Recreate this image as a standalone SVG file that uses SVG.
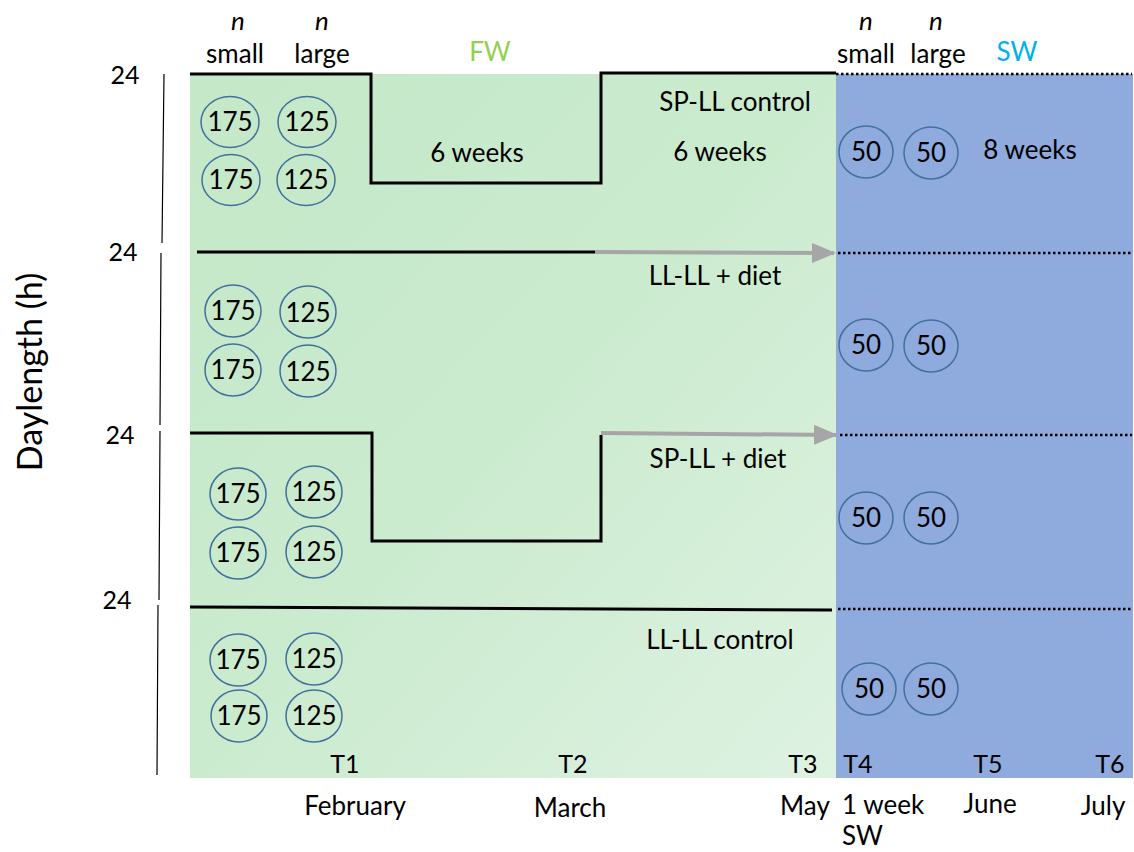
<svg xmlns="http://www.w3.org/2000/svg" width="1134" height="852" viewBox="0 0 1134 852">
<defs>
<linearGradient id="gfw" x1="0" y1="0" x2="1" y2="1">
<stop offset="0" stop-color="#C4E8C8"/>
<stop offset="0.5" stop-color="#CBEBCF"/>
<stop offset="1" stop-color="#DEF2E2"/>
</linearGradient>
<marker id="ga" markerWidth="6" markerHeight="5" refX="5.5" refY="2.5" orient="auto" markerUnits="strokeWidth">
<path d="M0,0 L6,2.5 L0,5 Z" fill="#A6A6A6"/>
</marker>
<style>
text{font-family:Lato,"Open Sans","Liberation Sans",sans-serif;fill:#000}
.t{font-size:26px}
.s{font-size:25px}
.c{fill:none;stroke:#41719C;stroke-width:1.5}
.n{font-size:26px;text-anchor:middle}
.blk{fill:none;stroke:#000;stroke-width:3}
.dot{fill:none;stroke:#000;stroke-width:2.5;stroke-dasharray:2.5 2.5}
.gray{fill:none;stroke:#A6A6A6;stroke-width:4}
.ax{fill:none;stroke:#000;stroke-width:1.2}
</style>
</defs>
<rect x="190" y="74" width="646" height="704" fill="url(#gfw)"/>
<rect x="836" y="74" width="297" height="704" fill="#8FAADC"/>
<g id="axis">
<path class="ax" d="M164,74 L162,243 M161,253 L160,425 M160,431 L159,600 M158,605 L157,775"/>
<text class="s" x="125" y="84" text-anchor="middle">24</text>
<text class="s" x="123" y="261" text-anchor="middle">24</text>
<text class="s" x="120" y="444" text-anchor="middle">24</text>
<text class="s" x="117" y="609" text-anchor="middle">24</text>
<text transform="translate(42,372) rotate(-90)" font-size="34" text-anchor="middle">Daylength (h)</text>
</g>
<g id="header">
<text class="t" x="238" y="30" text-anchor="middle" font-style="italic">n</text>
<text class="t" x="235" y="63" text-anchor="middle">small</text>
<text class="t" x="322" y="30" text-anchor="middle" font-style="italic">n</text>
<text class="t" x="322" y="63" text-anchor="middle">large</text>
<text class="t" x="490" y="61" text-anchor="middle" style="fill:#92D050">FW</text>
<text class="t" x="866" y="30" text-anchor="middle" font-style="italic">n</text>
<text class="t" x="866" y="63" text-anchor="middle">small</text>
<text class="t" x="936" y="30" text-anchor="middle" font-style="italic">n</text>
<text class="t" x="938" y="63" text-anchor="middle">large</text>
<text class="t" x="1017" y="61" text-anchor="middle" style="fill:#00B0F0">SW</text>
</g>
<g id="connectors">
<path class="blk" d="M190,74 L371,74 L371,183 L601,183 L601,73 L836,73"/>
<path class="dot" d="M836,74 L1132,74"/>
<path class="blk" d="M197,252 L595,252"/>
<path class="gray" d="M595,252 L834,253" marker-end="url(#ga)"/>
<path class="dot" d="M838,253 L1132,253"/>
<path class="blk" d="M190,433 L372,433 L372,541 L601,541 L601,435"/>
<path class="gray" d="M601,433 L836,435" marker-end="url(#ga)"/>
<path class="dot" d="M840,435 L1132,435"/>
<path class="blk" d="M190,607 L832,610"/>
<path class="dot" d="M838,609 L1132,609"/>
</g>
<g id="sp-ll-control">
<ellipse class="c" cx="230" cy="122" rx="29" ry="25.5"/><text class="n" x="230" y="131">175</text>
<ellipse class="c" cx="307" cy="122" rx="29" ry="25.5"/><text class="n" x="307" y="131">125</text>
<ellipse class="c" cx="231" cy="180" rx="29" ry="25.5"/><text class="n" x="231" y="189">175</text>
<ellipse class="c" cx="306" cy="180" rx="29" ry="25.5"/><text class="n" x="306" y="189">125</text>
<text class="t" x="477" y="162" text-anchor="middle">6 weeks</text>
<text class="t" x="735" y="111" text-anchor="middle">SP-LL control</text>
<text class="t" x="720" y="161" text-anchor="middle">6 weeks</text>
<ellipse class="c" cx="866" cy="152" rx="27" ry="26"/><text class="n" x="866" y="161">50</text>
<ellipse class="c" cx="931" cy="153" rx="27" ry="26"/><text class="n" x="931" y="162">50</text>
<text class="t" x="1030" y="159" text-anchor="middle">8 weeks</text>
</g>
<g id="ll-ll-diet">
<ellipse class="c" cx="233" cy="311" rx="28" ry="26"/><text class="n" x="233" y="320">175</text>
<ellipse class="c" cx="308" cy="312" rx="28" ry="26"/><text class="n" x="308" y="322">125</text>
<ellipse class="c" cx="233" cy="370" rx="28" ry="26"/><text class="n" x="233" y="379">175</text>
<ellipse class="c" cx="308" cy="371" rx="28" ry="26"/><text class="n" x="308" y="381">125</text>
<text class="t" x="715" y="285" text-anchor="middle">LL-LL + diet</text>
<ellipse class="c" cx="866" cy="345" rx="27" ry="26"/><text class="n" x="866" y="354">50</text>
<ellipse class="c" cx="931" cy="346" rx="27" ry="26"/><text class="n" x="931" y="355">50</text>
</g>
<g id="sp-ll-diet">
<ellipse class="c" cx="238" cy="494" rx="28" ry="26"/><text class="n" x="238" y="503">175</text>
<ellipse class="c" cx="314" cy="492" rx="28" ry="26"/><text class="n" x="314" y="501">125</text>
<ellipse class="c" cx="238" cy="553" rx="28" ry="26"/><text class="n" x="238" y="562">175</text>
<ellipse class="c" cx="314" cy="552" rx="28" ry="26"/><text class="n" x="314" y="561">125</text>
<text class="t" x="718" y="468" text-anchor="middle">SP-LL + diet</text>
<ellipse class="c" cx="866" cy="518" rx="27" ry="26"/><text class="n" x="866" y="527">50</text>
<ellipse class="c" cx="931" cy="518" rx="27" ry="26"/><text class="n" x="931" y="527">50</text>
</g>
<g id="ll-ll-control">
<ellipse class="c" cx="238" cy="660" rx="28" ry="26"/><text class="n" x="238" y="669">175</text>
<ellipse class="c" cx="314" cy="659" rx="28" ry="26"/><text class="n" x="314" y="668">125</text>
<ellipse class="c" cx="239" cy="716" rx="28" ry="26"/><text class="n" x="239" y="725">175</text>
<ellipse class="c" cx="314" cy="716" rx="28" ry="26"/><text class="n" x="314" y="725">125</text>
<text class="t" x="720" y="649" text-anchor="middle">LL-LL control</text>
<ellipse class="c" cx="869" cy="689" rx="27" ry="26"/><text class="n" x="869" y="698">50</text>
<ellipse class="c" cx="931" cy="689" rx="27" ry="26"/><text class="n" x="931" y="698">50</text>
</g>
<g id="timeline">
<text class="s" x="345" y="773" text-anchor="middle">T1</text>
<text class="s" x="573" y="773" text-anchor="middle">T2</text>
<text class="s" x="803" y="773" text-anchor="middle">T3</text>
<text class="s" x="858" y="773" text-anchor="middle">T4</text>
<text class="s" x="988" y="773" text-anchor="middle">T5</text>
<text class="s" x="1110" y="773" text-anchor="middle">T6</text>
<text class="t" x="355" y="815" text-anchor="middle">February</text>
<text class="t" x="570" y="817" text-anchor="middle">March</text>
<text class="t" x="805" y="815" text-anchor="middle">May</text>
<text class="t" x="842" y="814">1 week</text>
<text class="t" x="842" y="845">SW</text>
<text class="t" x="990" y="813" text-anchor="middle">June</text>
<text class="t" x="1103" y="815" text-anchor="middle">July</text>
</g>
</svg>
